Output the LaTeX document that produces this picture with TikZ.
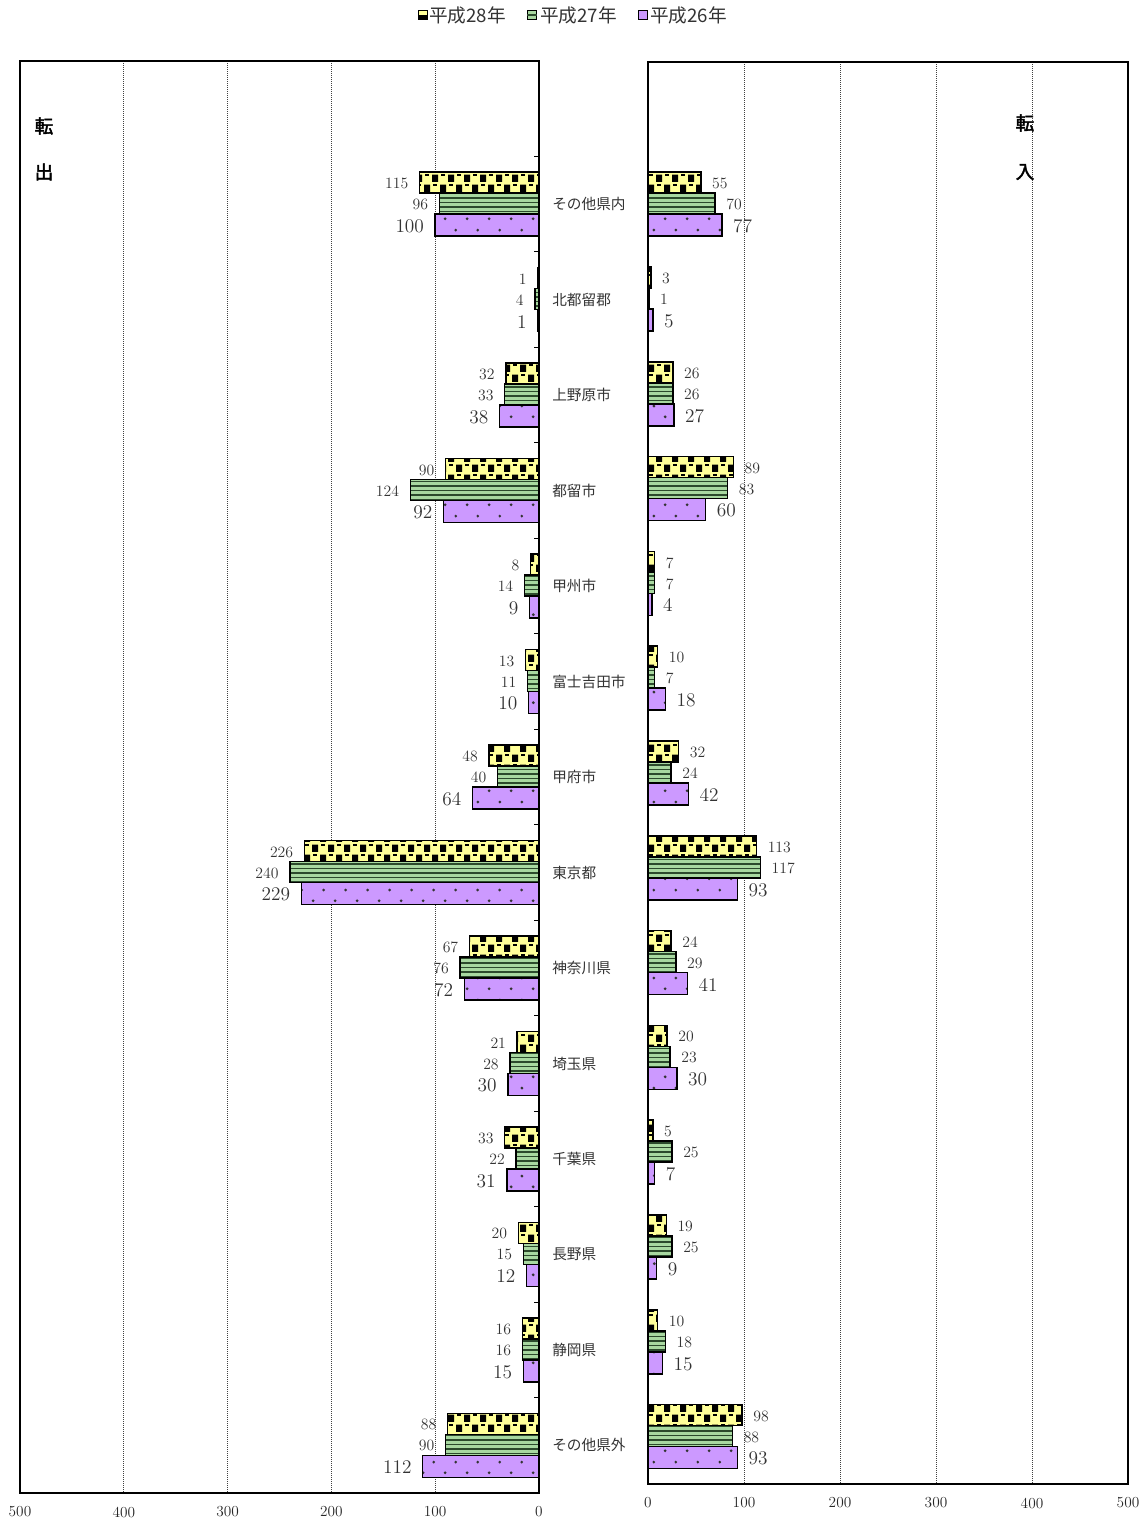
\documentclass[tikz,border=0pt]{standalone}
\usepackage{fontspec}
\newfontfamily\jp{Noto Sans CJK JP}
\newfontfamily\jpbf[FakeBold=2]{Noto Sans CJK JP}
\usetikzlibrary{patterns}

\definecolor{barYellow}{HTML}{FFFF99}
\definecolor{barGreen}{HTML}{A8D8A0}
\definecolor{grnDark}{HTML}{2C4A2C}
\definecolor{barPurple}{HTML}{CC99FF}

% fill patterns of the three years
\pgfdeclarepatternformonly{yelchk}{\pgfpoint{-1pt}{-1pt}}{\pgfpoint{13pt}{16pt}}{\pgfpoint{12pt}{15pt}}{
  \pgfpathrectangle{\pgfpointorigin}{\pgfpoint{4.5pt}{5.5pt}}
  \pgfpathrectangle{\pgfpoint{6pt}{7.5pt}}{\pgfpoint{4.5pt}{5.5pt}}
  \pgfusepath{fill}
  \pgfsetlinewidth{1pt}
  \pgfpathmoveto{\pgfpoint{7pt}{5.2pt}}\pgfpathlineto{\pgfpoint{9.6pt}{5.2pt}}
  \pgfpathmoveto{\pgfpoint{1pt}{12.7pt}}\pgfpathlineto{\pgfpoint{3.6pt}{12.7pt}}
  \pgfusepath{stroke}
}
\pgfdeclarepatternformonly{grnlines}{\pgfpoint{-1pt}{0pt}}{\pgfpoint{101pt}{3.375pt}}{\pgfpoint{100pt}{3.375pt}}{
  \pgfpathrectangle{\pgfpoint{-1pt}{0pt}}{\pgfpoint{102pt}{1.45pt}}
  \pgfusepath{fill}
}
\pgfdeclarepatternformonly{purpdots}{\pgfpointorigin}{\pgfpoint{16.5pt}{16.5pt}}{\pgfpoint{16.5pt}{16.5pt}}{
  \pgfpathcircle{\pgfpoint{4pt}{4pt}}{1.15pt}
  \pgfpathcircle{\pgfpoint{12.25pt}{12.25pt}}{1.15pt}
  \pgfusepath{fill}
}

\begin{document}
\begin{tikzpicture}[x=0.75pt,y=-0.75pt]
% Style definitions
\tikzset{
    frame/.style={line width=1.5pt},
    gridline/.style={densely dotted, line width=0.5pt, black!75},
    bar/.style={draw, line width=1.1pt},
    yr28/.style={bar, pattern=yelchk, preaction={fill=barYellow}},
    yr27/.style={bar, pattern=grnlines, pattern color=grnDark, preaction={fill=barGreen}},
    yr26/.style={bar, pattern=purpdots, pattern color=black!80, preaction={fill=barPurple}},
    small/.style={inner sep=0, text=black!80, font=\fontsize{11.8}{12}\selectfont},
    big/.style={inner sep=0, text=black!80, font=\fontsize{14.5}{15}\selectfont},
    catlab/.style={anchor=west, inner sep=0, text=black!80, font=\jp\fontsize{11}{12}\selectfont},
    ticklab/.style={inner sep=0, text=black!85, font=\fontsize{11.5}{12}\selectfont},
    side/.style={inner sep=0, font=\jpbf\fontsize{14}{15}\selectfont},
    legtext/.style={anchor=west, inner sep=0, text=black!80, font=\jp\fontsize{14}{15}\selectfont},
    legbox/.style={draw, line width=1pt, minimum size=6.5pt, inner sep=0}
}
\useasboundingbox (0,0) rectangle (1148,1522);

% Legend
\node[legbox, fill=barYellow] (key28) at (423,15) {};
\fill (key28.west) rectangle (key28.south east);
\node[legtext] (leg28) at (429,15) {平成28年};
\node[legbox, fill=barGreen] (key27) at (532,15) {};
\draw[grnDark, line width=1.2pt] (key27.west) -- (key27.east);
\node[legtext] (leg27) at (540,15) {平成27年};
\node[legbox, fill=barPurple] (key26) at (643,15) {};
\node[legtext] (leg26) at (650,15) {平成26年};

% Grid lines
\foreach \v in {100,200,300,400}{
    \draw[gridline] ({539-1.038*\v},61) -- ({539-1.038*\v},1493);
    \draw[gridline] ({648+0.96*\v},62) -- ({648+0.96*\v},1484);
}

% Bars and values: outflow (left) and inflow (right)
\foreach \nm/\la/\lb/\lc/\ra/\rb/\rc [count=\k] in {
    その他県内/115/96/100/55/70/77,
    北都留郡/1/4/1/3/1/5,
    上野原市/32/33/38/26/26/27,
    都留市/90/124/92/89/83/60,
    甲州市/8/14/9/7/7/4,
    富士吉田市/13/11/10/10/7/18,
    甲府市/48/40/64/32/24/42,
    東京都/226/240/229/113/117/93,
    神奈川県/67/76/72/24/29/41,
    埼玉県/21/28/30/20/23/30,
    千葉県/33/22/31/5/25/7,
    長野県/20/15/12/19/25/9,
    静岡県/16/16/15/10/18/15,
    その他県外/88/90/112/98/88/93}{
    \pgfmathsetmacro\yl{61+(\k+0.5)*95.47}
    \pgfmathsetmacro\yr{62+(\k+0.5)*94.8}
    \node[catlab] (cat\k) at (552,\yl) {\nm};
    % outflow
    \draw[yr28] (539,\yl-32) rectangle ({539-1.038*\la},\yl-11);
    \draw[yr27] (539,\yl-11) rectangle ({539-1.038*\lb},\yl+10);
    \draw[yr26] (539,\yl+10) rectangle ({539-1.038*\lc},\yl+32);
    \node[small, anchor=east] (outa\k) at ({539-1.038*\la-11},\yl-20.5) {\la};
    \node[small, anchor=east] (outb\k) at ({539-1.038*\lb-11},\yl+0.5) {\lb};
    \node[big, anchor=east] (outc\k) at ({539-1.038*\lc-11},\yl+22) {\lc};
    % inflow
    \draw[yr28] (648,\yr-32) rectangle ({648+0.96*\ra},\yr-11);
    \draw[yr27] (648,\yr-11) rectangle ({648+0.96*\rb},\yr+10);
    \draw[yr26] (648,\yr+10) rectangle ({648+0.96*\rc},\yr+32);
    \node[small, anchor=west] (ina\k) at ({648+0.96*\ra+11},\yr-20.5) {\ra};
    \node[small, anchor=west] (inb\k) at ({648+0.96*\rb+11},\yr+0.5) {\rb};
    \node[big, anchor=west] (inc\k) at ({648+0.96*\rc+11},\yr+22) {\rc};
}

% Category ticks on the outflow axis
\foreach \t in {1,...,14}
    \draw[line width=0.8pt] (539,{61+\t*95.47}) -- ++(-5,0);

% Frames
\draw[frame] (20,61) rectangle (539,1493);
\draw[frame] (648,62) rectangle (1128,1484);

% Axis labels
\foreach \v in {0,100,...,500}{
    \node[ticklab] (tl\v) at ({539-1.038*\v},1512) {\v};
    \node[ticklab] (tr\v) at ({648+0.96*\v},1503) {\v};
}

% Side titles
\node[side] (outA) at (44,126) {転};
\node[side] (outB) at (44,172) {出};
\node[side] (inA) at (1025,123) {転};
\node[side] (inB) at (1025,172) {入};

\end{tikzpicture}
\end{document}
